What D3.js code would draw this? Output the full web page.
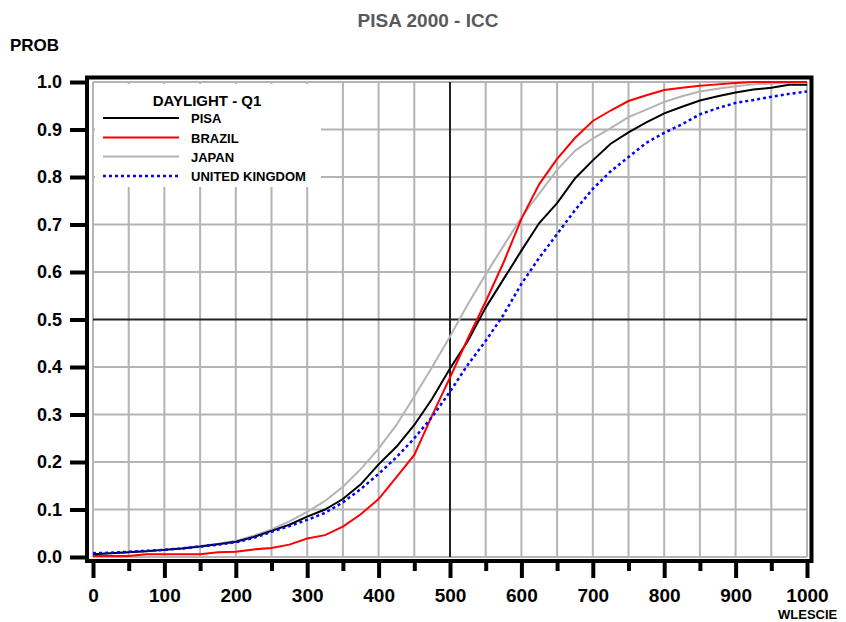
<!DOCTYPE html>
<html>
<head>
<meta charset="utf-8">
<script src="https://cdn.jsdelivr.net/npm/d3@7"></script>
<style>
  body { margin: 0; background: #fff; }
  svg { display: block; font-family: "Liberation Sans", Arial, sans-serif; font-weight: bold; }
</style>
</head>
<body>
<div id="chart"></div>
<script>
// scores on the x axis (WLESCIE), one every 25 points
var xValues = [0, 25, 50, 75, 100, 125, 150, 175, 200, 225, 250, 275, 300, 325, 350, 375, 400,
  425, 450, 475, 500, 525, 550, 575, 600, 625, 650, 675, 700, 725, 750, 775, 800, 825, 850,
  875, 900, 925, 950, 975, 1000];

// probability of a correct answer
var pisa = [0.006, 0.008, 0.010, 0.012, 0.015, 0.018, 0.022, 0.027, 0.032, 0.042, 0.055, 0.068,
  0.085, 0.100, 0.122, 0.153, 0.195, 0.232, 0.278, 0.333, 0.397, 0.455, 0.525, 0.585, 0.645,
  0.703, 0.745, 0.797, 0.835, 0.870, 0.894, 0.915, 0.934, 0.948, 0.961, 0.970, 0.978, 0.984,
  0.988, 0.994, 0.994];
var brazil = [0.002, 0.002, 0.002, 0.006, 0.006, 0.006, 0.006, 0.010, 0.011, 0.016, 0.019, 0.026,
  0.039, 0.046, 0.064, 0.090, 0.122, 0.168, 0.215, 0.298, 0.378, 0.460, 0.538, 0.620, 0.712,
  0.785, 0.838, 0.882, 0.918, 0.940, 0.960, 0.972, 0.983, 0.988, 0.992, 0.995, 0.998, 1.0,
  1.0, 1.0, 1.0];
var japan = [0.006, 0.008, 0.010, 0.013, 0.016, 0.019, 0.023, 0.028, 0.034, 0.045, 0.058, 0.075,
  0.095, 0.118, 0.148, 0.185, 0.228, 0.278, 0.338, 0.400, 0.464, 0.532, 0.595, 0.655, 0.715,
  0.765, 0.815, 0.855, 0.881, 0.903, 0.926, 0.942, 0.958, 0.970, 0.980, 0.986, 0.991, 0.995,
  0.997, 0.999, 1.0];
var uk = [0.008, 0.009, 0.011, 0.013, 0.015, 0.018, 0.022, 0.026, 0.031, 0.040, 0.053, 0.065,
  0.078, 0.093, 0.115, 0.143, 0.175, 0.210, 0.250, 0.295, 0.348, 0.405, 0.455, 0.510, 0.575,
  0.630, 0.680, 0.730, 0.775, 0.812, 0.842, 0.872, 0.893, 0.911, 0.932, 0.945, 0.956, 0.962,
  0.969, 0.975, 0.980];

var seriesNames = ["PISA", "BRAZIL", "JAPAN", "UNITED KINGDOM"];
var seriesValues = [pisa, brazil, japan, uk];

// tick labels
var xTicks = d3.range(0, 1001, 50);
var xTickLabels = ["0", "100", "200", "300", "400", "500", "600", "700", "800", "900", "1000"];
var yTicks = [0, 0.1, 0.2, 0.3, 0.4, 0.5, 0.6, 0.7, 0.8, 0.9, 1.0];
var yTickLabels = ["0.0", "0.1", "0.2", "0.3", "0.4", "0.5", "0.6", "0.7", "0.8", "0.9", "1.0"];

var width = 846, height = 622;

var lineStyles = [
  {color: "#000000", width: 2, dash: null},
  {color: "#ff0000", width: 2, dash: null},
  {color: "#b4b4b4", width: 2, dash: null},
  {color: "#0000ff", width: 2.5, dash: "3,3"}
];

var svg = d3.select("#chart")
            .append("svg")
            .attr("width", width)
            .attr("height", height);

var xScale = d3.scaleLinear().domain([0, 1000]).range([93, 807]);
var yScale = d3.scaleLinear().domain([0, 1]).range([557, 82]);

//title and axis names
svg.append("text")
   .attr("x", 428)
   .attr("y", 27)
   .attr("text-anchor", "middle")
   .style("font-size", "19px")
   .style("fill", "#595959")
   .text("PISA 2000 - ICC");

svg.append("text")
   .attr("x", 10)
   .attr("y", 51)
   .style("font-size", "17px")
   .text("PROB");

svg.append("text")
   .attr("x", 778)
   .attr("y", 619)
   .style("font-size", "13px")
   .text("WLESCIE");

//grid lines
var grid = svg.append("g").attr("class", "grid");

grid.selectAll(".vgrid")
    .data(xTicks)
    .enter()
    .append("line")
    .attr("x1", function(d) { return xScale(d); })
    .attr("x2", function(d) { return xScale(d); })
    .attr("y1", yScale(0))
    .attr("y2", yScale(1))
    .style("stroke", function(d) { return d === 500 ? "#222" : "#b4b4b4"; })
    .style("stroke-width", 2);

grid.selectAll(".hgrid")
    .data(yTicks)
    .enter()
    .append("line")
    .attr("x1", xScale(0))
    .attr("x2", xScale(1000))
    .attr("y1", function(d) { return yScale(d); })
    .attr("y2", function(d) { return yScale(d); })
    .style("stroke", function(d) { return d === 0.5 ? "#222" : "#b4b4b4"; })
    .style("stroke-width", 2);

// the grid lines at 500 and 0.5 are drawn on top of the grey ones
grid.selectAll("line")
    .filter(function(d) { return d === 500 || d === 0.5; })
    .raise();

//curves
var line = d3.line()
    .x(function(d) { return xScale(d[0]); })
    .y(function(d) { return yScale(d[1]); });

var order = [2, 0, 1, 3];
order.forEach(function(i) {
  var pts = xValues.map(function(x, j) { return [x, seriesValues[i][j]]; });
  svg.append("path")
     .datum(pts)
     .attr("d", line)
     .style("fill", "none")
     .style("stroke", lineStyles[i].color)
     .style("stroke-width", lineStyles[i].width)
     .style("stroke-dasharray", lineStyles[i].dash);
});

//legend
var legend = svg.append("g").attr("class", "legend");

legend.append("rect")
      .attr("x", 95)
      .attr("y", 84)
      .attr("width", 226)
      .attr("height", 103)
      .style("fill", "#fff");

legend.append("text")
      .attr("x", 207)
      .attr("y", 106)
      .attr("text-anchor", "middle")
      .style("font-size", "15px")
      .text("DAYLIGHT - Q1");

var legendY = [118, 137.5, 156.5, 176];
seriesNames.forEach(function(name, i) {
  legend.append("line")
        .attr("x1", 103)
        .attr("x2", 179)
        .attr("y1", legendY[i])
        .attr("y2", legendY[i])
        .style("stroke", lineStyles[i].color)
        .style("stroke-width", lineStyles[i].width)
        .style("stroke-dasharray", lineStyles[i].dash);
  legend.append("text")
        .attr("x", 191)
        .attr("y", legendY[i] + 5)
        .style("font-size", "13px")
        .text(name);
});

//frame
svg.append("rect")
   .attr("x", 87)
   .attr("y", 77.5)
   .attr("width", 724.5)
   .attr("height", 483.5)
   .style("fill", "none")
   .style("stroke", "#000")
   .style("stroke-width", 4);

//y axis
var yAxis = d3.axisLeft(yScale)
              .tickValues(yTicks)
              .tickFormat(function(d, i) { return yTickLabels[i]; })
              .tickSize(17)
              .tickPadding(8);

var yG = svg.append("g")
    .attr("class", "y-axis")
    .attr("transform", "translate(87,0)")
    .call(yAxis);

//x axis
var xAxis = d3.axisBottom(xScale)
              .tickValues(xTicks)
              .tickFormat(function(d) { return d % 100 === 0 ? xTickLabels[d / 100] : ""; })
              .tickSize(17)
              .tickPadding(11);

var xG = svg.append("g")
    .attr("class", "x-axis")
    .attr("transform", "translate(0,561)")
    .call(xAxis);

xG.selectAll(".tick line")
  .filter(function(d) { return d % 100 !== 0; })
  .attr("y2", 10);

[yG, xG].forEach(function(g) {
  g.select(".domain").remove();
  g.selectAll(".tick line").style("stroke", "#000").style("stroke-width", 4);
  g.selectAll(".tick text")
   .style("font-family", "'Liberation Sans', Arial, sans-serif")
   .style("font-weight", "bold")
   .style("fill", "#000");
});

yG.selectAll(".tick text").style("font-size", "18px");
xG.selectAll(".tick text").style("font-size", "19px");
</script>
</body>
</html>
